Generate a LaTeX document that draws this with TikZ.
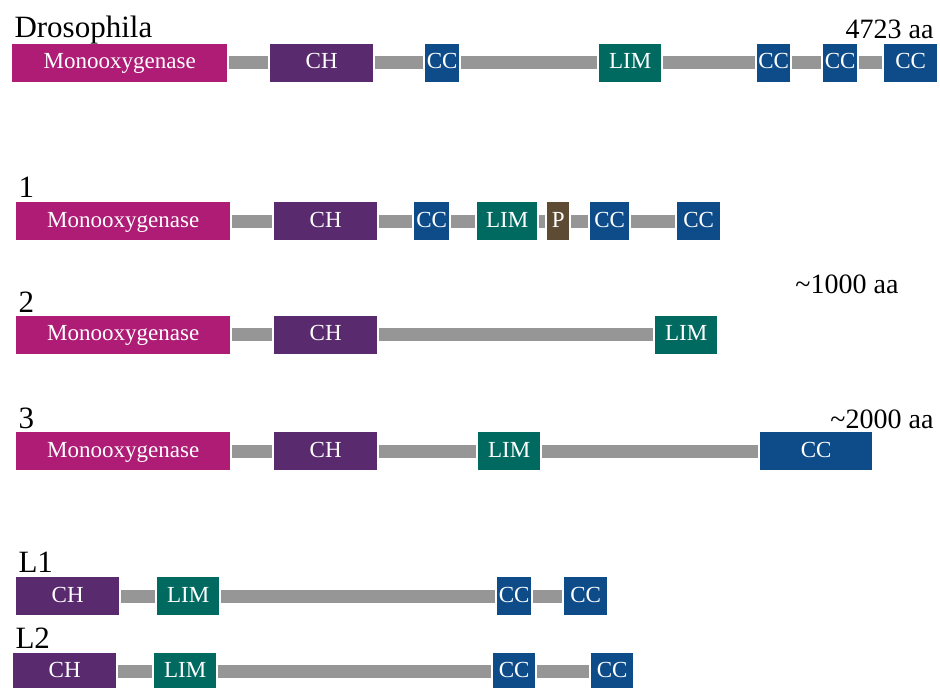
\documentclass[tikz,border=0pt]{standalone}
\usepackage{fontspec}
\setmainfont{Liberation Serif}
\definecolor{monocol}{RGB}{174,28,118}
\definecolor{chcol}{RGB}{90,42,111}
\definecolor{cccol}{RGB}{13,76,137}
\definecolor{limcol}{RGB}{0,106,97}
\definecolor{pcol}{RGB}{94,75,51}
\definecolor{linkgray}{RGB}{150,150,150}
\begin{document}
\begin{tikzpicture}[x=1pt,y=-1pt,
  dom/.style={anchor=west,minimum height=38pt,inner sep=0pt,text height=15pt,text depth=3pt,text=white,font=\fontsize{23}{23}\selectfont},
  mono/.style={dom,fill=monocol,minimum width=214pt},
  ch/.style={dom,fill=chcol,minimum width=103pt},
  cc/.style={dom,fill=cccol},
  lim/.style={dom,fill=limcol,minimum width=62pt},
  pdom/.style={dom,fill=pcol,minimum width=22pt},
  linker/.style={line width=13pt,draw=linkgray,shorten <=2pt,shorten >=2pt},
  lbl/.style={anchor=base west,font=\fontsize{31}{31}\selectfont},
  len/.style={anchor=base east,font=\fontsize{28}{28}\selectfont}]
\useasboundingbox (0,0) rectangle (940,688);
% Drosophila
\node[lbl] (ldm) at (11,37) {Drosophila};   \node[len] (adm) at (937,38) {4723 aa};
\node[mono,minimum width=215pt] (dmo) at (12,62.5) {Monooxygenase};
\node[ch] (dch) at (270,62.5) {CH};          \node[cc,minimum width=34pt] (dcca) at (425,62.5) {CC};
\node[lim] (dlim) at (599,62.5) {LIM};       \node[cc,minimum width=33pt] (dccb) at (757,62.5) {CC};
\node[cc,minimum width=34pt] (dccc) at (823,62.5) {CC};  \node[cc,minimum width=53pt] (dccd) at (884,62.5) {CC};
\draw[linker] (dmo) -- (dch); \draw[linker] (dch) -- (dcca); \draw[linker] (dcca) -- (dlim);
\draw[linker] (dlim) -- (dccb); \draw[linker] (dccb) -- (dccc); \draw[linker] (dccc) -- (dccd);
% 1
\node[lbl] (l1) at (15,197) {1};
\node[mono] (amo) at (16,221) {Monooxygenase};  \node[ch] (ach) at (274,221) {CH};
\node[cc,minimum width=35pt] (acca) at (414,221) {CC};  \node[lim,minimum width=60pt] (alim) at (477,221) {LIM};
\node[pdom] (ap) at (547,221) {P};             \node[cc,minimum width=39pt] (accb) at (590,221) {CC};
\node[cc,minimum width=43pt] (accc) at (677,221) {CC};
\draw[linker] (amo) -- (ach); \draw[linker] (ach) -- (acca); \draw[linker] (acca) -- (alim);
\draw[linker] (alim) -- (ap); \draw[linker] (ap) -- (accb); \draw[linker] (accb) -- (accc);
% 2
\node[lbl] (l2) at (15,312) {2};   \node[len] (ab) at (902,293) {\textasciitilde1000 aa};
\node[mono] (bmo) at (16,334.5) {Monooxygenase};  \node[ch] (bch) at (274,334.5) {CH};
\node[lim] (blim) at (655,334.5) {LIM};
\draw[linker] (bmo) -- (bch); \draw[linker] (bch) -- (blim);
% 3
\node[lbl] (l3) at (15,428) {3};   \node[len] (ac) at (937,428) {\textasciitilde2000 aa};
\node[mono] (cmo) at (16,451) {Monooxygenase};  \node[ch] (cch) at (274,451) {CH};
\node[lim] (clim) at (478,451) {LIM};          \node[cc,minimum width=112pt] (ccc) at (760,451) {CC};
\draw[linker] (cmo) -- (cch); \draw[linker] (cch) -- (clim); \draw[linker] (clim) -- (ccc);
% L1
\node[lbl] (lla) at (15,572) {L1};
\node[ch] (ech) at (16,596) {CH};              \node[lim] (elim) at (157,596) {LIM};
\node[cc,minimum width=34pt] (ecca) at (497,596) {CC};  \node[cc,minimum width=43pt] (eccb) at (564,596) {CC};
\draw[linker] (ech) -- (elim); \draw[linker] (elim) -- (ecca); \draw[linker] (ecca) -- (eccb);
% L2
\node[lbl] (llb) at (12,648) {L2};
\node[ch] (fch) at (13,671.5) {CH};            \node[lim] (flim) at (154,671.5) {LIM};
\node[cc,minimum width=42pt] (fcca) at (493,671.5) {CC};  \node[cc,minimum width=42pt] (fccb) at (591,671.5) {CC};
\draw[linker] (fch) -- (flim); \draw[linker] (flim) -- (fcca); \draw[linker] (fcca) -- (fccb);
\end{tikzpicture}
\end{document}
